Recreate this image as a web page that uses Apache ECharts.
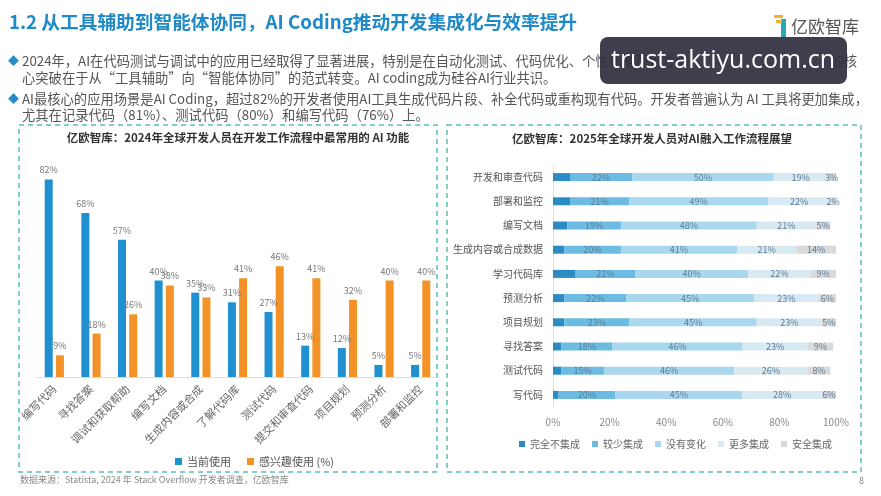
<!DOCTYPE html>
<html>
<head>
<meta charset="utf-8">
<script src="https://cdn.jsdelivr.net/npm/echarts@6/dist/echarts.min.js"></script>
<style>
  html, body { margin: 0; padding: 0; background: #fff; }
  #main { width: 881px; height: 496px; }
</style>
</head>
<body>
<div id="main"></div>
<script>
// 左图：最常用的 AI 功能
const leftCats = ["编写代码", "寻找答案", "调试和获取帮助", "编写文档", "生成内容或合成", "了解代码库", "测试代码", "提交和审查代码", "项目规划", "预测分析", "部署和监控"];
const currentUse = [82, 68, 57, 40, 35, 31, 27, 13, 12, 5, 5];
const interestUse = [9, 18, 26, 38, 33, 41, 46, 41, 32, 40, 40];

// 右图：AI 融入工作流程展望
const rightCats = ["开发和审查代码", "部署和监控", "编写文档", "生成内容或合成数据", "学习代码库", "预测分析", "项目规划", "寻找答案", "测试代码", "写代码"];
const noIntegr = [6, 6, 5, 4, 8, 4, 4, 3, 3, 2];
const lessIntegr = [22, 21, 19, 20, 21, 22, 23, 18, 15, 20];
const noChange = [50, 49, 48, 41, 40, 45, 45, 46, 46, 45];
const moreIntegr = [19, 22, 21, 21, 22, 23, 23, 23, 26, 28];
const fullIntegr = [3, 2, 5, 14, 9, 6, 5, 9, 8, 6];
const rightNames = ["完全不集成", "较少集成", "没有变化", "更多集成", "安全集成"];
const rightColors = ["#2b8cc4", "#6cbbe2", "#a8d7ee", "#d8e9f1", "#dadada"];

const font = "'Noto Sans CJK SC', 'Noto Sans', sans-serif";
const boxColor = "#5bbfb5";

let chartDom = document.getElementById("main");
let myChart = echarts.init(chartDom);

function textEl(x, y, text, style) {
  return {
    type: "text",
    x: x,
    y: y,
    style: Object.assign({ text: text, fontFamily: font, fill: "#555", fontSize: 13.3, textVerticalAlign: "middle" }, style),
  };
}

const rightSeriesData = [noIntegr, lessIntegr, noChange, moreIntegr, fullIntegr];

let options = {
  animation: false,
  textStyle: { fontFamily: font },
  graphic: [
    // 标题
    textEl(9, 22, "1.2 从工具辅助到智能体协同，AI Coding推动开发集成化与效率提升", { fontSize: 18.7, fontWeight: "bold", fill: "#1f8ac5" }),
    // logo
    { type: "rect", shape: { x: 781, y: 19, width: 5, height: 18 }, style: { fill: "#2aa6b8" } },
    { type: "rect", shape: { x: 774, y: 15, width: 9, height: 3 }, style: { fill: "#f2b233" } },
    { type: "rect", shape: { x: 776, y: 20, width: 6, height: 3 }, style: { fill: "#f2b233" } },
    textEl(791, 27, "亿欧智库", { fontSize: 17, fill: "#555" }),
    // 要点
    textEl(8, 61, "◆", { fontSize: 11, fill: "#2a8ac4" }),
    textEl(22, 61, "2024年，AI在代码测试与调试中的应用已经取得了显著进展，特别是在自动化测试、代码优化、个性化推荐等方面"),
    textEl(857, 61, "的核", { textAlign: "right" }),
    textEl(22, 78, "心突破在于从“工具辅助”向“智能体协同”的范式转变。AI coding成为硅谷AI行业共识。"),
    textEl(8, 99, "◆", { fontSize: 11, fill: "#2a8ac4" }),
    textEl(22, 99, "AI最核心的应用场景是AI Coding，超过82%的开发者使用AI工具生成代码片段、补全代码或重构现有代码。开发者普遍认为 AI 工具将更加集成，"),
    textEl(22, 115, "尤其在记录代码（81%）、测试代码（80%）和编写代码（76%）上。"),
    // 虚线框
    { type: "rect", shape: { x: 19, y: 125, width: 418, height: 347 }, style: { fill: null, stroke: boxColor, lineWidth: 1.5, lineDash: [5, 4] } },
    { type: "rect", shape: { x: 447, y: 125, width: 414, height: 347 }, style: { fill: null, stroke: boxColor, lineWidth: 1.5, lineDash: [5, 4] } },
    // 图表标题
    textEl(238, 138, "亿欧智库：2024年全球开发人员在开发工作流程中最常用的 AI 功能", { fontSize: 11.5, fontWeight: "bold", fill: "#333", textAlign: "center" }),
    textEl(652, 139, "亿欧智库：2025年全球开发人员对AI融入工作流程展望", { fontSize: 11.5, fontWeight: "bold", fill: "#333", textAlign: "center" }),
    // 来源与页码
    textEl(20, 480, "数据来源：Statista, 2024 年 Stack Overflow 开发者调查，亿欧智库", { fontSize: 9, fill: "#888" }),
    textEl(859, 481, "8", { fontSize: 9, fill: "#888" }),
    // 水印
    { type: "rect", z: 100, shape: { x: 600, y: 37, width: 247, height: 47, r: 8 }, style: { fill: "rgba(50,46,62,0.93)" } },
    { type: "text", z: 101, x: 723, y: 61, style: { text: "trust-aktiyu.com.cn", fontFamily: "'Open Sans', 'Noto Sans', sans-serif", fontSize: 25, fill: "#fff", textAlign: "center", textVerticalAlign: "middle" } },
  ],
  legend: [
    {
      data: ["当前使用", "感兴趣使用 (%)"],
      left: 170,
      top: 451,
      icon: "rect",
      itemWidth: 7,
      itemHeight: 7,
      itemGap: 16,
      textStyle: { fontSize: 11, color: "#555", fontFamily: font },
    },
    {
      data: rightNames,
      left: 514,
      top: 434,
      icon: "rect",
      itemWidth: 6,
      itemHeight: 6,
      itemGap: 12,
      textStyle: { fontSize: 10, color: "#666", fontFamily: font },
    },
  ],
  grid: [
    { left: 36, right: 442, top: 136, bottom: 119, containLabel: false },
    { left: 553, right: 45, top: 165, bottom: 89, containLabel: false },
  ],
  xAxis: [
    {
      gridIndex: 0,
      type: "category",
      data: leftCats,
      axisTick: { show: false },
      axisLine: { lineStyle: { color: "#ddd" } },
      axisLabel: { interval: 0, rotate: 45, fontSize: 11, color: "#666", margin: 10 },
    },
    {
      gridIndex: 1,
      type: "value",
      min: 0,
      max: 100,
      interval: 20,
      splitLine: { show: false },
      axisLine: { show: false },
      axisTick: { show: false },
      axisLabel: { formatter: "{value}%", fontSize: 10, color: "#888", margin: 10 },
    },
  ],
  yAxis: [
    { gridIndex: 0, type: "value", min: 0, max: 100, show: false },
    {
      gridIndex: 1,
      type: "category",
      inverse: true,
      data: rightCats,
      axisTick: { show: false },
      axisLine: { show: true, lineStyle: { color: "#e2e2e2" } },
      axisLabel: { fontSize: 10, color: "#555", margin: 10 },
    },
  ],
  series: [
    {
      name: "当前使用",
      type: "bar",
      xAxisIndex: 0,
      yAxisIndex: 0,
      barWidth: 8,
      barGap: "40%",
      itemStyle: { color: "#2090d0" },
      label: { show: true, position: "top", formatter: "{c}%", fontSize: 9, color: "#777" },
      data: currentUse,
    },
    {
      name: "感兴趣使用 (%)",
      type: "bar",
      xAxisIndex: 0,
      yAxisIndex: 0,
      barWidth: 8,
      barGap: "40%",
      itemStyle: { color: "#f29227" },
      label: { show: true, position: "top", formatter: "{c}%", fontSize: 9, color: "#777" },
      data: interestUse,
    },
  ].concat(
    rightNames.map((name, i) => ({
      name: name,
      type: "bar",
      stack: "outlook",
      xAxisIndex: 1,
      yAxisIndex: 1,
      barWidth: 8,
      itemStyle: { color: rightColors[i] },
      label: { show: i > 0, position: "inside", formatter: "{c}%", fontSize: 9, color: "#5b7f99" },
      data: rightSeriesData[i],
    }))
  ),
};

options && myChart.setOption(options);
window.onresize = myChart.resize;
</script>
</body>
</html>
